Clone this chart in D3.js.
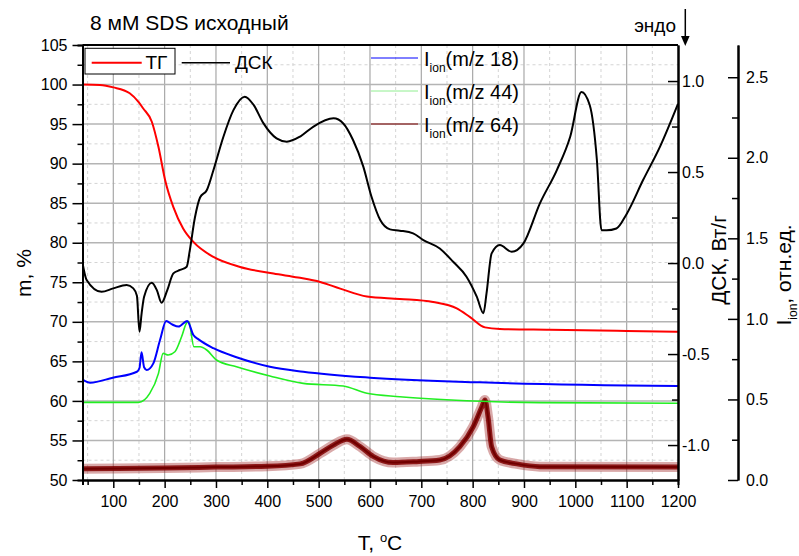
<!DOCTYPE html>
<html><head><meta charset="utf-8">
<script src="https://cdn.jsdelivr.net/npm/d3@7"></script>
<style>
body{margin:0;background:#fff}
svg{display:block}
text{font-family:"Liberation Sans",Arial,sans-serif;fill:#000}
</style>
</head><body>
<svg id="c" width="799" height="556"></svg>
<script>
// ---------- DATA ----------
const tgT = [40, 74, 100, 132, 149, 158, 175, 188, 201, 217, 236, 256, 295, 347, 412, 460, 503, 542, 594, 658, 723, 769, 795, 824, 853, 950, 1100, 1200];
const tgV = [100.0, 99.94, 99.64, 98.9, 97.8, 97.0, 95.3, 92.1, 87.9, 84.5, 81.8, 80.1, 78.2, 76.94, 76.1, 75.6, 75.04, 74.2, 73.2, 72.9, 72.5, 71.7, 70.6, 69.3, 69.1, 69.0, 68.85, 68.75];

const dscT = [40, 48, 77, 100, 126, 139, 146, 151, 155, 160, 175, 185, 194, 205, 217, 230, 243, 249, 259, 269, 282, 295, 314, 334, 356, 373, 392, 418, 438, 464, 490, 529, 548, 567, 587, 603, 620, 639, 658, 684, 704, 736, 762, 788, 808, 821, 827, 837, 853, 876, 899, 931, 964, 990, 1012, 1028, 1042, 1051, 1061, 1080, 1100, 1132, 1165, 1200];
const dscV = [0.0, -0.093, -0.158, -0.139, -0.121, -0.139, -0.18, -0.377, -0.28, -0.185, -0.108, -0.15, -0.218, -0.15, -0.057, -0.038, -0.02, 0.07, 0.25, 0.36, 0.40, 0.51, 0.69, 0.84, 0.914, 0.87, 0.77, 0.685, 0.667, 0.695, 0.75, 0.795, 0.767, 0.676, 0.53, 0.364, 0.236, 0.185, 0.178, 0.163, 0.126, 0.08, 0.007, -0.075, -0.185, -0.276, -0.167, 0.053, 0.099, 0.062, 0.108, 0.328, 0.511, 0.694, 0.94, 0.868, 0.566, 0.18, 0.18, 0.19, 0.27, 0.456, 0.64, 0.875];

const ion18T = [41, 55, 99, 146, 151, 155, 160, 165, 178, 191, 203, 215, 227, 244, 256, 266, 295, 340, 405, 470, 600, 814, 1200];
const ion18V = [0.621, 0.604, 0.635, 0.672, 0.695, 0.793, 0.70, 0.683, 0.724, 0.869, 0.987, 0.965, 0.952, 0.987, 0.90, 0.873, 0.818, 0.762, 0.703, 0.672, 0.635, 0.606, 0.583];

const ion44T = [41, 149, 171, 188, 197, 207, 220, 233, 243, 247, 257, 269, 282, 301, 340, 405, 470, 548, 594, 658, 788, 931, 1200];
const ion44V = [0.482, 0.482, 0.538, 0.662, 0.786, 0.776, 0.796, 0.889, 0.976, 0.983, 0.827, 0.827, 0.807, 0.745, 0.703, 0.646, 0.60, 0.583, 0.538, 0.517, 0.492, 0.48, 0.476];

const ion64T = [41, 200, 300, 400, 464, 503, 529, 555, 581, 607, 645, 691, 736, 775, 801, 818, 824, 830, 837, 853, 886, 931, 1200];
const ion64V = [0.07, 0.075, 0.08, 0.085, 0.10, 0.166, 0.217, 0.253, 0.207, 0.145, 0.108, 0.114, 0.124, 0.207, 0.33, 0.455, 0.497, 0.39, 0.207, 0.124, 0.10, 0.083, 0.08];

const xMajor = [100, 200, 300, 400, 500, 600, 700, 800, 900, 1000, 1100, 1200];
const xMinor = [50, 150, 250, 350, 450, 550, 650, 750, 850, 950, 1050, 1150];
const mMajor = [50, 55, 60, 65, 70, 75, 80, 85, 90, 95, 100, 105];
const mMinor = [52.5, 57.5, 62.5, 67.5, 72.5, 77.5, 82.5, 87.5, 92.5, 97.5, 102.5];
const dscMajor = [-1.0, -0.5, 0.0, 0.5, 1.0];
const dscMinor = [-0.75, -0.25, 0.25, 0.75];
const ionMajor = [0.0, 0.5, 1.0, 1.5, 2.0, 2.5];
const ionMinor = [0.25, 0.75, 1.25, 1.75, 2.25];

const titleText = "8 мМ SDS исходный";
const legendTG = "ТГ", legendDSC = "ДСК";
const ionLabels = ["(m/z 18)", "(m/z 44)", "(m/z 64)"];

// ---------- LAYOUT ----------
const L = 82.5, R = 678, T = 45, B = 480, IONX = 738;
const svg = d3.select("#c");
svg.append("rect").attr("width", 799).attr("height", 556).attr("fill", "#fff");

const x = d3.scaleLinear().domain([40, 1200]).range([L, R]);
const yM = d3.scaleLinear().domain([50, 105]).range([B, T]);
const yD = d3.scaleLinear().domain([-1.192, 1.198]).range([B, T]);
const yI = d3.scaleLinear().domain([0, 2.70]).range([B, T]);

// ---------- GRID ----------
const grid = svg.append("g");
grid.selectAll(".vmin").data(xMinor).join("line")
  .attr("x1", d => x(d)).attr("x2", d => x(d)).attr("y1", T).attr("y2", B)
  .attr("stroke", "#d4d4d4").attr("stroke-width", 1).attr("stroke-dasharray", "3,3");
grid.selectAll(".hmin").data(mMinor).join("line")
  .attr("x1", L).attr("x2", R).attr("y1", d => yM(d)).attr("y2", d => yM(d))
  .attr("stroke", "#d4d4d4").attr("stroke-width", 1).attr("stroke-dasharray", "3,3");
grid.selectAll(".vmaj").data(xMajor.filter(d => d < 1200)).join("line")
  .attr("x1", d => x(d)).attr("x2", d => x(d)).attr("y1", T).attr("y2", B)
  .attr("stroke", "#a8a8a8").attr("stroke-width", 1.2);
grid.selectAll(".hmaj").data(mMajor.filter(d => d > 50 && d < 105)).join("line")
  .attr("x1", L).attr("x2", R).attr("y1", d => yM(d)).attr("y2", d => yM(d))
  .attr("stroke", "#b4b4b4").attr("stroke-width", 1.5);

// ---------- CURVES ----------
svg.append("clipPath").attr("id", "clip").append("rect")
  .attr("x", L).attr("y", T).attr("width", R - L).attr("height", B - T);
const plot = svg.append("g").attr("clip-path", "url(#clip)");
const mk = (ys) => d3.line().x(d => x(d[0])).y(d => ys(d[1])).curve(d3.curveMonotoneX);
const zip = (a, b) => a.map((v, i) => [v, b[i]]);

const d64 = zip(ion64T, ion64V);
plot.append("path").attr("d", mk(yI)(d64)).attr("fill", "none")
  .attr("stroke", "#a02828").attr("stroke-opacity", 0.4).attr("stroke-width", 10);
plot.append("path").attr("d", mk(yI)(d64)).attr("fill", "none")
  .attr("stroke", "#800000").attr("stroke-opacity", 0.85).attr("stroke-width", 5);
plot.append("path").attr("d", mk(yI)(d64)).attr("fill", "none")
  .attr("stroke", "#700000").attr("stroke-width", 2);

plot.append("path").attr("d", mk(yI)(zip(ion44T, ion44V))).attr("fill", "none")
  .attr("stroke", "#22ee22").attr("stroke-width", 1.6);
plot.append("path").attr("d", mk(yI)(zip(ion18T, ion18V))).attr("fill", "none")
  .attr("stroke", "#0000ff").attr("stroke-width", 2);
plot.append("path").attr("d", mk(yM)(zip(tgT, tgV))).attr("fill", "none")
  .attr("stroke", "#ff0000").attr("stroke-width", 2);
plot.append("path").attr("d", mk(yD)(zip(dscT, dscV))).attr("fill", "none")
  .attr("stroke", "#000").attr("stroke-width", 2);

// ---------- AXES ----------
const fmt1 = d => d.toFixed(1);
const fmt0 = d => String(d);
function styleAxis(g, fs) {
  g.selectAll("path.domain").attr("stroke", "#000").attr("stroke-width", 2);
  g.selectAll(".tick line").attr("stroke", "#000").attr("stroke-width", 1.5);
  g.selectAll(".tick text").style("font-size", fs + "px").attr("fill", "#000")
    .style("font-family", '"Liberation Sans",Arial,sans-serif');
}
// top frame
svg.append("line").attr("x1", L).attr("x2", R).attr("y1", T).attr("y2", T)
  .attr("stroke", "#000").attr("stroke-width", 2);

// bottom
const gxm = svg.append("g").attr("transform", `translate(0,${B})`)
  .call(d3.axisBottom(x).tickValues(xMinor).tickSize(5).tickFormat(""));
styleAxis(gxm, 16);
const gx = svg.append("g").attr("transform", `translate(0,${B})`)
  .call(d3.axisBottom(x).tickValues(xMajor).tickSize(8).tickSizeOuter(0).tickPadding(8).tickFormat(fmt0));
styleAxis(gx, 16);

// left
const gym = svg.append("g").attr("transform", `translate(${L},0)`)
  .call(d3.axisLeft(yM).tickValues(mMinor).tickSize(5).tickFormat(""));
styleAxis(gym, 16);
const gy = svg.append("g").attr("transform", `translate(${L},0)`)
  .call(d3.axisLeft(yM).tickValues(mMajor).tickSize(10).tickSizeOuter(0).tickPadding(5).tickFormat(fmt0));
styleAxis(gy, 16);

// right DSC (ticks inward)
const gdm = svg.append("g").attr("transform", `translate(${R},0)`)
  .call(d3.axisRight(yD).tickValues(dscMinor).tickSizeInner(-6).tickSizeOuter(0).tickFormat(""));
styleAxis(gdm, 16);
const gd = svg.append("g").attr("transform", `translate(${R},0)`)
  .call(d3.axisRight(yD).tickValues(dscMajor).tickSizeInner(-10).tickSizeOuter(0).tickPadding(4).tickFormat(fmt1));
styleAxis(gd, 16);

// ion axis (ticks to the left)
const gim = svg.append("g").attr("transform", `translate(${IONX},0)`)
  .call(d3.axisRight(yI).tickValues(ionMinor).tickSizeInner(-6).tickSizeOuter(0).tickFormat(""));
styleAxis(gim, 16);
const gi = svg.append("g").attr("transform", `translate(${IONX},0)`)
  .call(d3.axisRight(yI).tickValues(ionMajor).tickSizeInner(-10).tickSizeOuter(0).tickPadding(8).tickFormat(fmt1));
styleAxis(gi, 16);

// ---------- LABELS ----------
svg.append("text").attr("x", 90).attr("y", 30).style("font-size", "21px").text(titleText);

svg.append("text").attr("x", 380).attr("y", 550).attr("text-anchor", "middle")
  .style("font-size", "21px")
  .call(t => {
    t.append("tspan").text("T, ");
    t.append("tspan").style("font-size", "13px").attr("dy", -8).text("o");
    t.append("tspan").attr("dy", 8).text("C");
  });

svg.append("text").attr("transform", "translate(31,273) rotate(-90)")
  .attr("text-anchor", "middle").style("font-size", "21px").text("m, %");

svg.append("text").attr("transform", "translate(726,260) rotate(-90)")
  .attr("text-anchor", "middle").style("font-size", "21px").text("ДСК, Вт/г");

svg.append("text").attr("transform", "translate(791,275) rotate(-90)")
  .attr("text-anchor", "middle").style("font-size", "21px")
  .call(t => {
    t.append("tspan").text("I");
    t.append("tspan").style("font-size", "12px").attr("dy", 6).text("ion");
    t.append("tspan").attr("dy", -6).text(", отн.ед.");
  });

// endo arrow
svg.append("text").attr("x", 676).attr("y", 31.5).attr("text-anchor", "end")
  .style("font-size", "19px").text("эндо");
svg.append("line").attr("x1", 685.3).attr("x2", 685.3).attr("y1", 9).attr("y2", 38)
  .attr("stroke", "#000").attr("stroke-width", 1.5);
svg.append("path").attr("d", "M681,36 L689.6,36 L685.3,46 Z").attr("fill", "#000");

// ---------- LEGENDS ----------
svg.append("rect").attr("x", 85).attr("y", 48.3).attr("width", 90).attr("height", 25.7)
  .attr("fill", "#fff").attr("stroke", "#000").attr("stroke-width", 1);
svg.append("line").attr("x1", 91.7).attr("x2", 141.7).attr("y1", 62.7).attr("y2", 62.7)
  .attr("stroke", "#ff0000").attr("stroke-width", 2);
svg.append("text").attr("x", 145.5).attr("y", 69).style("font-size", "19px").text(legendTG);
svg.append("line").attr("x1", 181.7).attr("x2", 230).attr("y1", 62.7).attr("y2", 62.7)
  .attr("stroke", "#000").attr("stroke-width", 1.5);
svg.append("text").attr("x", 235).attr("y", 69).style("font-size", "19px").text(legendDSC);

const ionColors = ["#0000ff", "#90ee90", "#800000"];
const ionRows = [58, 91, 124];
ionRows.forEach((yy, i) => {
  svg.append("line").attr("x1", 371).attr("x2", 418).attr("y1", yy).attr("y2", yy)
    .attr("stroke", ionColors[i]).attr("stroke-width", 1);
  svg.append("text").attr("x", 424).attr("y", yy + 7.5).style("font-size", "20px")
    .call(t => {
      t.append("tspan").text("I");
      t.append("tspan").style("font-size", "12px").attr("dy", 6).text("ion");
      t.append("tspan").attr("dy", -6).text(ionLabels[i]);
    });
});
</script>
</body></html>
